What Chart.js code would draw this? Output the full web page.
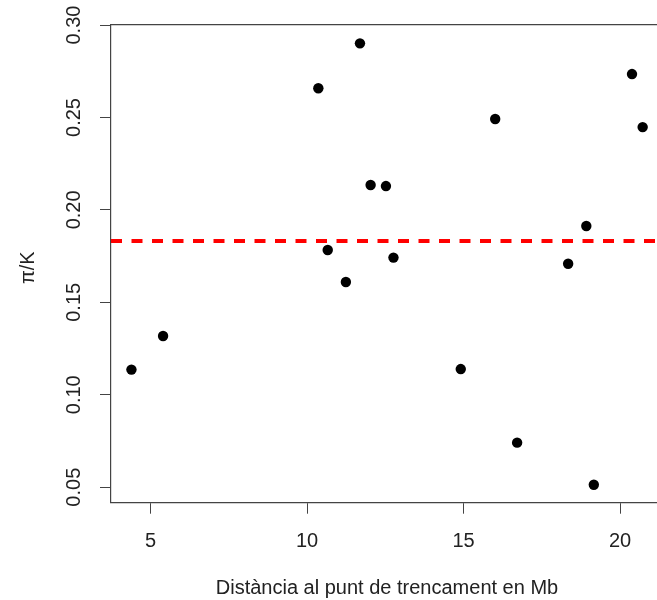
<!DOCTYPE html>
<html>
<head>
<meta charset="utf-8">
<script src="https://cdn.jsdelivr.net/npm/chart.js@4"></script>
<style>
  html, body { margin: 0; padding: 0; background: #fff; overflow: hidden; }
  #wrap { width: 700px; height: 600px; }
</style>
</head>
<body>
<div id="wrap"><canvas id="chart" width="700" height="600"></canvas></div>
<script>
// distance to breakpoint (Mb) and pi/K
const distMb = [4.39, 5.40, 10.36, 10.66, 11.24, 11.69, 12.03, 12.52, 12.76, 14.91, 16.01, 16.71, 18.34, 18.92, 19.16, 20.38, 20.72];
const piK = [0.1136, 0.1318, 0.2658, 0.1783, 0.1610, 0.2901, 0.2135, 0.2129, 0.1742, 0.1139, 0.2492, 0.0741, 0.1709, 0.1913, 0.0513, 0.2735, 0.2448];
const meanPiK = 0.1832;

const xTicks = [5, 10, 15, 20];
const yTicks = [0.05, 0.10, 0.15, 0.20, 0.25, 0.30];
const xRange = [3.737, 21.37];
const yRange = [0.0416, 0.3002];

const xTitle = "Distància al punt de trencament en Mb";
const yTitle = "π/K";

const FONT = '20px "Liberation Sans", Arial, sans-serif';
const INK = "#222";

const rStyle = {
  id: "rStyle",
  afterDraw(chart) {
    const { ctx, chartArea: a, scales } = chart;
    ctx.save();
    // top edge of box() (right edge falls outside the picture)
    ctx.strokeStyle = "#444";
    ctx.lineWidth = 1.2;
    ctx.beginPath();
    ctx.moveTo(a.left, a.top);
    ctx.lineTo(a.right, a.top);
    ctx.stroke();

    ctx.fillStyle = INK;
    ctx.font = FONT;
    ctx.textAlign = "center";
    ctx.textBaseline = "middle";
    // x tick labels
    scales.x.ticks.forEach(t => {
      ctx.fillText(String(t.value), scales.x.getPixelForValue(t.value), 541);
    });
    // y tick labels, rotated like R (las = 0)
    scales.y.ticks.forEach(t => {
      ctx.save();
      ctx.translate(74, scales.y.getPixelForValue(t.value));
      ctx.rotate(-Math.PI / 2);
      ctx.fillText(t.value.toFixed(2), 0, 0);
      ctx.restore();
    });
    // axis titles
    ctx.fillText(xTitle, (a.left + 663) / 2, 588);
    ctx.save();
    ctx.translate(28, (a.top + a.bottom) / 2 + 4);
    ctx.rotate(-Math.PI / 2);
    ctx.fillText(yTitle, 0, 0);
    ctx.restore();
    ctx.restore();
  }
};

const axisCommon = {
  grid: { display: true, drawOnChartArea: false, drawTicks: true, tickLength: 11, color: "#444", lineWidth: 1 },
  border: { display: true, color: "#444", width: 1.2 },
  ticks: { display: false }
};

new Chart(document.getElementById("chart").getContext("2d"), {
  type: "scatter",
  data: {
    datasets: [
      {
        label: "pi/K",
        data: distMb.map((d, i) => ({ x: d, y: piK[i] })),
        backgroundColor: "#000",
        borderColor: "#000",
        borderWidth: 0,
        pointRadius: 5.2,
        pointHoverRadius: 5.2
      },
      {
        type: "line",
        label: "mean",
        data: [{ x: xRange[0], y: meanPiK }, { x: xRange[1], y: meanPiK }],
        borderColor: "#ff0000",
        borderWidth: 4,
        borderDash: [11, 9.5],
        pointRadius: 0,
        fill: false
      }
    ]
  },
  options: {
    responsive: false,
    animation: false,
    layout: { padding: { top: 24.7, right: 37, bottom: 0, left: 0 } },
    plugins: { legend: { display: false }, tooltip: { enabled: false } },
    scales: {
      x: {
        ...axisCommon,
        type: "linear",
        min: xRange[0],
        max: xRange[1],
        afterBuildTicks: s => { s.ticks = xTicks.map(v => ({ value: v })); },
        afterFit: s => { s.height = 97.3; }
      },
      y: {
        ...axisCommon,
        type: "linear",
        min: yRange[0],
        max: yRange[1],
        afterBuildTicks: s => { s.ticks = yTicks.map(v => ({ value: v })); },
        afterFit: s => { s.width = 111; }
      }
    }
  },
  plugins: [rStyle]
});
</script>
</body>
</html>
